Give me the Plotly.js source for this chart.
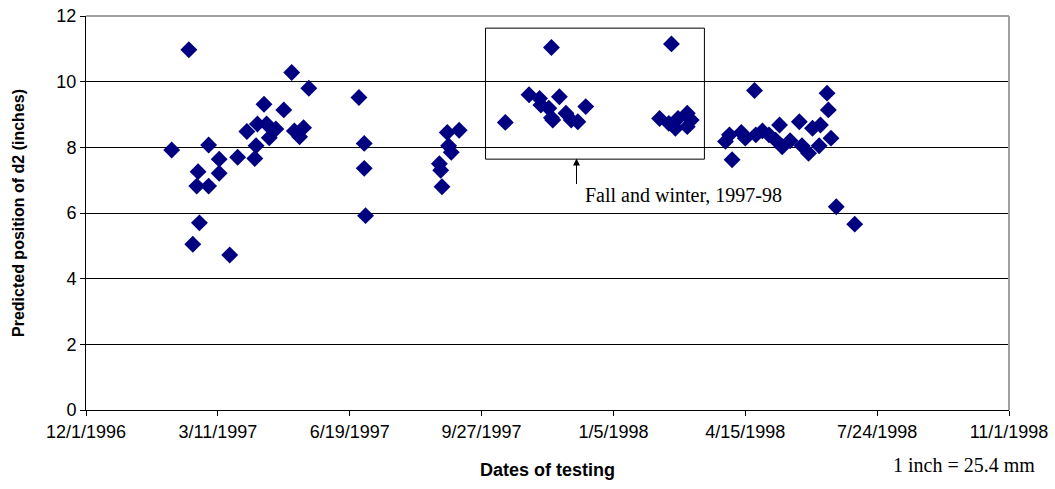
<!DOCTYPE html>
<html>
<head>
<meta charset="utf-8">
<script src="https://cdn.plot.ly/plotly-3.0.1.min.js"></script>
<style>html,body{margin:0;padding:0;background:#fff;}#chart{width:1055px;height:489px;}</style>
</head>
<body>
<div id="chart"></div>
<script>
// Test dates and predicted position of d2 (inches)
const testDates = [
  "1997-02-04","1997-02-17","1997-02-20","1997-02-23","1997-02-24","1997-02-25",
  "1997-03-04","1997-03-04","1997-03-12","1997-03-12","1997-03-20","1997-03-26",
  "1997-04-02","1997-04-08","1997-04-09","1997-04-10","1997-04-15","1997-04-17",
  "1997-04-19","1997-04-24","1997-04-30","1997-05-06","1997-05-08","1997-05-12",
  "1997-05-15","1997-05-19",
  "1997-06-26","1997-06-30","1997-06-30","1997-07-01",
  "1997-08-26","1997-08-27","1997-08-28","1997-09-01","1997-09-02","1997-09-04","1997-09-10",
  "1997-10-15","1997-11-02","1997-11-10","1997-11-11","1997-11-17","1997-11-19","1997-11-19",
  "1997-11-20","1997-11-25","1997-11-30","1997-12-04","1997-12-09","1997-12-15",
  "1998-02-09","1998-02-16","1998-02-18","1998-02-21","1998-02-23","1998-03-02","1998-03-02","1998-03-05",
  "1998-03-31","1998-04-03","1998-04-05","1998-04-12","1998-04-15","1998-04-22","1998-04-23",
  "1998-04-28","1998-05-03","1998-05-08","1998-05-11","1998-05-13","1998-05-19","1998-05-26",
  "1998-05-28","1998-06-02","1998-06-05","1998-06-10","1998-06-11","1998-06-16","1998-06-17",
  "1998-06-19","1998-06-23","1998-07-07"
];
const d2Position = [
  7.92,10.97,5.05,6.82,7.26,5.70,
  8.07,6.82,7.64,7.21,4.72,7.70,
  8.48,7.66,8.05,8.71,9.31,8.71,
  8.29,8.56,9.14,10.28,8.50,8.32,
  8.60,9.80,
  9.52,8.12,7.36,5.92,
  7.50,7.30,6.80,8.45,8.05,7.85,8.52,
  8.76,9.60,9.49,9.29,9.19,8.90,11.04,
  8.83,9.54,9.04,8.83,8.78,9.24,
  8.88,8.73,11.15,8.58,8.88,9.04,8.63,8.83,
  8.18,8.38,7.62,8.45,8.28,9.73,8.38,
  8.50,8.38,8.22,8.68,8.02,8.20,8.78,
  8.05,7.82,8.58,8.05,8.68,9.65,9.14,
  8.28,6.19,5.66
];
const xTickDates = ["1996-12-01","1997-03-11","1997-06-19","1997-09-27","1998-01-05","1998-04-15","1998-07-24","1998-11-01"];
const xTickLabels = ["12/1/1996","3/11/1997","6/19/1997","9/27/1997","1/5/1998","4/15/1998","7/24/1998","11/1/1998"];
const yTickVals = [0,2,4,6,8,10,12];

const sans = "'Liberation Sans',Arial,sans-serif";
const serif = "'Liberation Serif','Times New Roman',serif";

const trace = {
  x: testDates, y: d2Position, type: "scatter", mode: "markers",
  marker: {symbol: "diamond", size: 13, color: "#000080", line: {width: 0}},
  hoverinfo: "x+y"
};

const layout = {
  width: 1055, height: 489,
  margin: {l: 86, r: 46, t: 16, b: 79},
  paper_bgcolor: "#fff", plot_bgcolor: "#fff",
  showlegend: false,
  xaxis: {
    type: "date",
    range: ["1996-12-01", "1998-11-01"],
    tickmode: "array", tickvals: xTickDates, ticktext: xTickLabels,
    ticks: "outside", ticklen: 5, tickcolor: "#000", tickwidth: 1,
    showline: true, linecolor: "#000", linewidth: 1,
    showgrid: false, zeroline: false,
    tickfont: {family: sans, size: 18, color: "#000"},
    title: {text: "<b>Dates of testing</b>", font: {family: sans, size: 18, color: "#000"}, standoff: 22}
  },
  yaxis: {
    range: [0, 12],
    tickmode: "array", tickvals: yTickVals,
    ticks: "outside", ticklen: 5, tickcolor: "#000", tickwidth: 1,
    showline: true, linecolor: "#000", linewidth: 1,
    showgrid: true, gridcolor: "#000", gridwidth: 1,
    zeroline: false,
    tickfont: {family: sans, size: 18, color: "#000"},
    title: {text: "<b>Predicted position of d2 (inches)</b>", font: {family: sans, size: 16, color: "#000"}, standoff: 27}
  },
  shapes: [
    {type: "line", xref: "paper", yref: "paper", x0: 0, x1: 1, y0: 1, y1: 1, line: {color: "#a0a0a0", width: 2}, layer: "above"},
    {type: "line", xref: "paper", yref: "paper", x0: 1, x1: 1, y0: 0, y1: 1, line: {color: "#a0a0a0", width: 2}, layer: "above"},
    {type: "rect", xref: "x", yref: "y", x0: "1997-09-30", x1: "1998-03-15", y0: 7.64, y1: 11.63, line: {color: "#000", width: 1}, fillcolor: "rgba(0,0,0,0)", layer: "above"}
  ],
  annotations: [
    {x: "1997-12-08", y: 7.66, xref: "x", yref: "y", text: "", showarrow: true, ax: 0, ay: 27, arrowhead: 2, arrowsize: 1.4, arrowwidth: 1, arrowcolor: "#000"},
    {x: 0.538, y: 0.546, xref: "paper", yref: "paper", xanchor: "left", yanchor: "middle", showarrow: false, text: "Fall and winter, 1997-98", font: {family: serif, size: 20, color: "#000"}},
    {x: 0.951, y: -0.14, xref: "paper", yref: "paper", xanchor: "center", yanchor: "middle", showarrow: false, text: "1 inch = 25.4 mm", font: {family: serif, size: 20, color: "#000"}}
  ]
};

Plotly.newPlot("chart", [trace], layout, {displayModeBar: false, staticPlot: true});
</script>
</body>
</html>
